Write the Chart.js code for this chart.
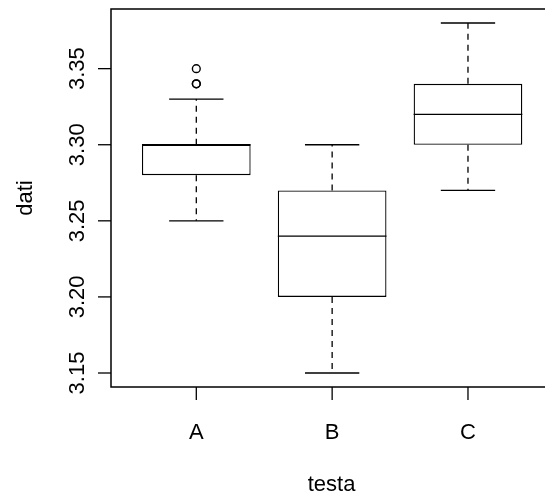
<!DOCTYPE html>
<html>
<head>
<meta charset="utf-8">
<script src="https://cdn.jsdelivr.net/npm/chart.js@4/dist/chart.umd.min.js"></script>
<style>
  html, body { margin: 0; padding: 0; background: #fff; }
</style>
</head>
<body>
<canvas id="boxChart" width="545" height="497"></canvas>
<script>
// Data
const categories = ['A', 'B', 'C'];
const lowerWhisker = [3.25, 3.15, 3.27];
const q1 = [3.28, 3.20, 3.30];
const median = [3.30, 3.24, 3.32];
const q3 = [3.30, 3.27, 3.34];
const upperWhisker = [3.33, 3.30, 3.38];
const outlierGroup = [1, 1, 1];
const outlierValue = [3.35, 3.34, 3.34];

const yTicks = [3.15, 3.20, 3.25, 3.30, 3.35];
const xTitle = 'testa';
const yTitle = 'dati';

const FONT = '22px "Liberation Sans", Arial, sans-serif';
const LW = 1.3;

// whiskers, caps, medians, frame and axes like R's boxplot()
const boxExtras = {
    id: 'boxExtras',
    afterDatasetsDraw(chart) {
        const { ctx, chartArea, scales: { x, y } } = chart;
        ctx.save();
        ctx.strokeStyle = '#000';
        ctx.lineWidth = LW;

        categories.forEach((c, i) => {
            const cx = x.getPixelForValue(i + 1);
            const capL = x.getPixelForValue(i + 1 - 0.2);
            const capR = x.getPixelForValue(i + 1 + 0.2);
            const boxL = x.getPixelForValue(i + 1 - 0.4);
            const boxR = x.getPixelForValue(i + 1 + 0.4);

            // dashed whiskers
            ctx.setLineDash([6, 5]);
            ctx.beginPath();
            ctx.moveTo(cx, y.getPixelForValue(q3[i]));
            ctx.lineTo(cx, y.getPixelForValue(upperWhisker[i]));
            ctx.moveTo(cx, y.getPixelForValue(q1[i]));
            ctx.lineTo(cx, y.getPixelForValue(lowerWhisker[i]));
            ctx.stroke();
            ctx.setLineDash([]);

            // caps
            ctx.beginPath();
            ctx.moveTo(capL, y.getPixelForValue(upperWhisker[i]));
            ctx.lineTo(capR, y.getPixelForValue(upperWhisker[i]));
            ctx.moveTo(capL, y.getPixelForValue(lowerWhisker[i]));
            ctx.lineTo(capR, y.getPixelForValue(lowerWhisker[i]));
            ctx.stroke();

            // median
            ctx.beginPath();
            ctx.moveTo(boxL, y.getPixelForValue(median[i]));
            ctx.lineTo(boxR, y.getPixelForValue(median[i]));
            ctx.stroke();
        });

        // frame (right side falls outside the picture)
        const right = x.getPixelForValue(3.62);
        ctx.lineWidth = 1.5;
        ctx.beginPath();
        ctx.moveTo(right, chartArea.top);
        ctx.lineTo(chartArea.left, chartArea.top);
        ctx.lineTo(chartArea.left, chartArea.bottom);
        ctx.lineTo(right, chartArea.bottom);
        ctx.stroke();
        ctx.lineWidth = LW;

        ctx.fillStyle = '#000';
        ctx.font = FONT;

        // y ticks + rotated labels
        yTicks.forEach(v => {
            const py = y.getPixelForValue(v);
            ctx.beginPath();
            ctx.moveTo(chartArea.left - 13, py);
            ctx.lineTo(chartArea.left, py);
            ctx.stroke();
            ctx.save();
            ctx.translate(84, py);
            ctx.rotate(-Math.PI / 2);
            ctx.textAlign = 'center';
            ctx.textBaseline = 'alphabetic';
            ctx.fillText(v.toFixed(2), 0, 0);
            ctx.restore();
        });

        // x ticks + labels
        categories.forEach((c, i) => {
            const px = x.getPixelForValue(i + 1);
            ctx.beginPath();
            ctx.moveTo(px, chartArea.bottom);
            ctx.lineTo(px, chartArea.bottom + 13);
            ctx.stroke();
            ctx.textAlign = 'center';
            ctx.textBaseline = 'alphabetic';
            ctx.fillText(c, px, 439);
        });

        // axis titles
        const midX = (chartArea.left + right) / 2;
        ctx.textAlign = 'center';
        ctx.fillText(xTitle, midX, 491);
        ctx.save();
        ctx.translate(32, (chartArea.top + chartArea.bottom) / 2);
        ctx.rotate(-Math.PI / 2);
        ctx.fillText(yTitle, 0, 0);
        ctx.restore();

        ctx.restore();
    }
};

const boxData = categories.map((c, i) => ({ x: i + 1, y: [q1[i], q3[i]] }));
const outlierData = outlierValue.map((v, i) => ({ x: outlierGroup[i], y: v }));

const config = {
    type: 'bar',
    data: {
        datasets: [{
            label: 'box',
            data: boxData,
            backgroundColor: '#fff',
            borderColor: '#000',
            borderWidth: LW,
            borderSkipped: false,
            barPercentage: 0.8,
            categoryPercentage: 1
        }, {
            type: 'scatter',
            label: 'outliers',
            data: outlierData,
            pointStyle: 'circle',
            pointRadius: 3.9,
            pointBorderWidth: 1.4,
            pointBorderColor: '#000',
            pointBackgroundColor: 'rgba(0,0,0,0)',
            showLine: false
        }]
    },
    options: {
        responsive: false,
        animation: false,
        devicePixelRatio: 1,
        layout: { autoPadding: false, padding: { left: 111, top: 9, bottom: 110, right: 0 } },
        plugins: { legend: { display: false }, tooltip: { enabled: false } },
        scales: {
            x: {
                type: 'linear', min: 0.372, max: 3.567, offset: false, display: false,
                afterBuildTicks: s => { s.ticks = categories.map((c, i) => ({ value: i + 1 })); }
            },
            y: { type: 'linear', min: 3.1408, max: 3.3892, display: false }
        }
    },
    plugins: [boxExtras]
};

new Chart(document.getElementById('boxChart').getContext('2d'), config);
</script>
</body>
</html>
